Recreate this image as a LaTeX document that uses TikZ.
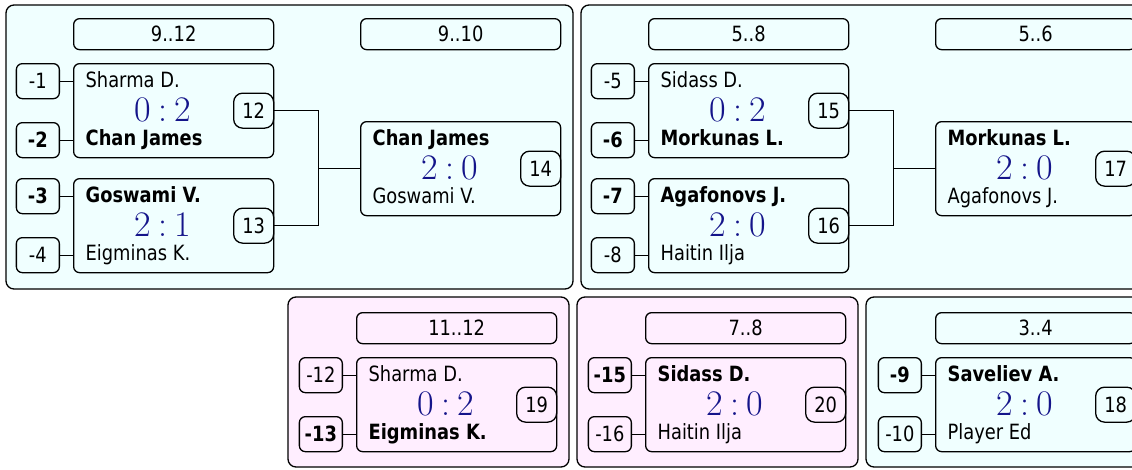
\documentclass[tikz,border=0pt]{standalone}
\usepackage{fontspec}
\setsansfont{DejaVu Sans}[FakeStretch=0.85]
\renewcommand{\familydefault}{\sfdefault}
\usepackage{tikz}
\usetikzlibrary{positioning,calc}
\definecolor{softcyan}{HTML}{F0FFFF}
\definecolor{softpink}{HTML}{FFEEFF}
\definecolor{scoreblue}{HTML}{14148A}

% one game: name, x, y, top player, score, score, bottom player, number
\newcommand{\game}[8]{%
  \node[match] (#1) at (#2,#3) {};
  \node[pl] (#1t) at ([shift={(12,24)}]#1.north west) {#4};
  \node[sc] (#1s) at ([shift={(90,47)}]#1.north west) {#5\hspace{7pt}:\hspace{7pt}#6};
  \node[pl] (#1b) at ([shift={(12,82)}]#1.north west) {#7};
  \node[num,anchor=east] (#1n) at (#1.east) {#8};
}
% the two seed boxes in front of a game
\newcommand{\seeds}[5]{%
  \node[seed,anchor=north east] (#2) at ([xshift=-13]#1.north west) {#3};
  \node[seed,anchor=south east] (#4) at ([xshift=-13]#1.south west) {#5};
  \draw[wire] (#2) -- (#2 -| #1.west);
  \draw[wire] (#4) -- (#4 -| #1.west);
}

\begin{document}
\begin{tikzpicture}[
 x=1pt,y=-1pt,
 line width=1.3pt,
 panel/.style={draw,rounded corners=8pt},
 box/.style={draw,rounded corners=6pt,inner sep=0pt,font=\fontsize{21}{25}\selectfont},
 hdr/.style={box,anchor=north west,minimum width=200pt,minimum height=31pt},
 match/.style={box,anchor=north west,minimum width=200pt,minimum height=94pt},
 num/.style={box,rounded corners=9pt,minimum width=40pt,minimum height=35pt},
 seed/.style={box,minimum width=43pt,minimum height=35pt},
 pl/.style={anchor=base west,inner sep=0pt,font=\fontsize{21}{25}\selectfont},
 sc/.style={inner sep=0pt,text=scoreblue,font=\rmfamily\fontsize{36}{36}\selectfont},
 wire/.style={draw}
]
\useasboundingbox (0,0) rectangle (1132,469);
\clip (0,0) rectangle (1132,469);

% panels
\draw[panel,fill=softcyan] (6,5) rectangle (573,289);
\draw[panel,fill=softcyan] (581,5) rectangle (1145,289);
\draw[panel,fill=softpink] (288,297) rectangle (569,467);
\draw[panel,fill=softpink] (577,297) rectangle (858,467);
\draw[panel,fill=softcyan] (866,297) rectangle (1145,467);

% places 9..12
\node[hdr] (h912) at (73,18) {9..12};
\node[hdr] (h910) at (360,18) {9..10};
\game{m12}{73}{63}{Sharma D.}{0}{2}{\textbf{Chan James}}{12}
\seeds{m12}{s1}{-1}{s2}{\textbf{-2}}
\game{m13}{73}{178}{\textbf{Goswami V.}}{2}{1}{Eigminas K.}{13}
\seeds{m13}{s3}{\textbf{-3}}{s4}{-4}
\game{m14}{360}{121}{\textbf{Chan James}}{2}{0}{Goswami V.}{14}
\draw[wire] (m12n.east) -- ++(44,0) coordinate (j14) |- (m13n.east);
\draw[wire] (m14.west) -- (m14.west -| j14);

% places 5..8
\node[hdr] (h58) at (648,18) {5..8};
\node[hdr] (h56) at (935,18) {5..6};
\game{m15}{648}{63}{Sidass D.}{0}{2}{\textbf{Morkunas L.}}{15}
\seeds{m15}{s5}{-5}{s6}{\textbf{-6}}
\game{m16}{648}{178}{\textbf{Agafonovs J.}}{2}{0}{Haitin Ilja}{16}
\seeds{m16}{s7}{\textbf{-7}}{s8}{-8}
\game{m17}{935}{121}{\textbf{Morkunas L.}}{2}{0}{Agafonovs J.}{17}
\draw[wire] (m15n.east) -- ++(44,0) coordinate (j17) |- (m16n.east);
\draw[wire] (m17.west) -- (m17.west -| j17);

% places 11..12
\node[hdr] (h1112) at (356,312) {11..12};
\game{m19}{356}{357}{Sharma D.}{0}{2}{\textbf{Eigminas K.}}{19}
\seeds{m19}{s12}{-12}{s13}{\textbf{-13}}

% places 7..8
\node[hdr] (h78) at (645,312) {7..8};
\game{m20}{645}{357}{\textbf{Sidass D.}}{2}{0}{Haitin Ilja}{20}
\seeds{m20}{s15}{\textbf{-15}}{s16}{-16}

% places 3..4
\node[hdr] (h34) at (935,312) {3..4};
\game{m18}{935}{357}{\textbf{Saveliev A.}}{2}{0}{Player Ed}{18}
\seeds{m18}{s9}{\textbf{-9}}{s10}{-10}
\end{tikzpicture}
\end{document}
